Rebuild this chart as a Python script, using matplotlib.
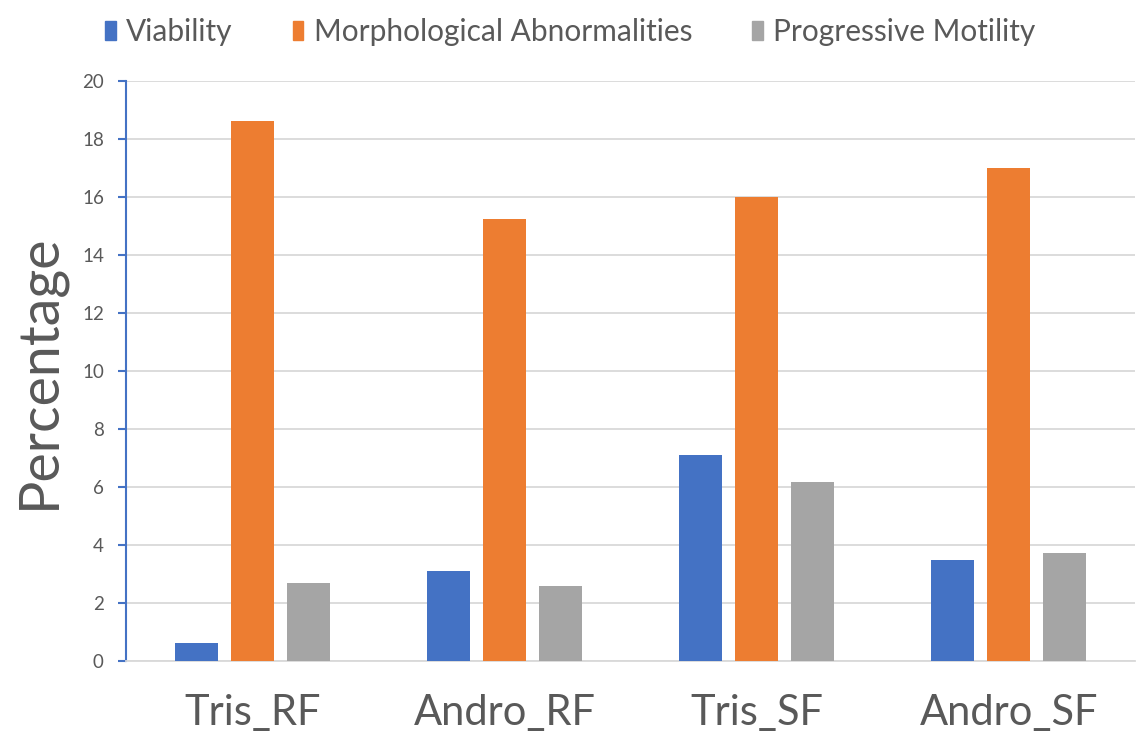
import numpy as np
import matplotlib
matplotlib.use("Agg")
import matplotlib.pyplot as plt
from matplotlib.patches import Patch

categories = ["Tris_RF", "Andro_RF", "Tris_SF", "Andro_SF"]
viability = [0.62, 3.1, 7.1, 3.48]
morph_abn = [18.62, 15.25, 15.98, 17.0]
prog_motility = [2.69, 2.59, 6.17, 3.72]
series_names = ["Viability", "Morphological Abnormalities", "Progressive Motility"]
colors = ["#4472C4", "#ED7D31", "#A5A5A5"]
yticks = [0, 2, 4, 6, 8, 10, 12, 14, 16, 18, 20]

plt.rcParams["font.family"] = ["Lato", "DejaVu Sans"]
txt = "#595959"

fig = plt.figure(figsize=(11.36, 7.49), dpi=100)
ax = fig.add_axes([0.111, 0.1175, 0.888, 0.7745])

x = np.arange(len(categories))
w, step = 0.17, 0.222
for k, (vals, c) in enumerate(zip([viability, morph_abn, prog_motility], colors)):
    ax.bar(x + (k - 1) * step, vals, width=w, color=c, zorder=3)

ax.set_xlim(-0.5, len(categories) - 0.5)
ax.set_ylim(0, 20)
ax.set_yticks(yticks)
ax.set_xticks(x)
ax.set_xticklabels(categories, fontsize=30, color=txt)
ax.tick_params(axis="x", length=0, pad=24)
ax.tick_params(axis="y", length=6, width=1.5, color="#4472C4", labelsize=13.5,
               labelcolor=txt, pad=10)
ax.yaxis.grid(True, color="#D9D9D9", linewidth=1.3, zorder=0)
for s in ["top", "right"]:
    ax.spines[s].set_visible(False)
ax.spines["bottom"].set_color("#D9D9D9")
ax.spines["bottom"].set_linewidth(1.3)
ax.spines["left"].set_color("#4472C4")
ax.spines["left"].set_linewidth(1.5)
ax.set_ylabel("Percentage", fontsize=40, color=txt, labelpad=12)

handles = [Patch(color=c) for c in colors]
fig.legend(handles, series_names, loc="upper center", bbox_to_anchor=(0.502, 1.012),
           ncol=3, frameon=False, fontsize=21.5, labelcolor=txt,
           handlelength=0.36, handleheight=0.6, handletextpad=0.35, columnspacing=2.0)

fig.savefig("out.png", dpi=100)
